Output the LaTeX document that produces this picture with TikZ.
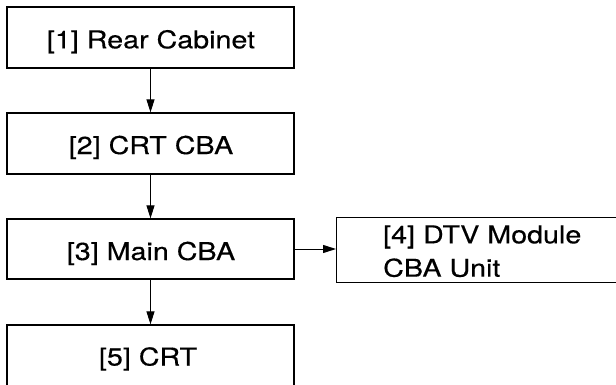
\documentclass[tikz,border=0pt]{standalone}
\usepackage{fontspec}
\setmainfont{TeX Gyre Heros}[FakeStretch=1.17,FakeBold=0.35]
\usetikzlibrary{arrows.meta}
\begin{document}
\begin{tikzpicture}[x=1pt,y=-1pt,
  boxstyle/.style={draw, line width=1.3pt, inner sep=0pt, minimum width=287pt},
  lbl/.style={inner sep=0pt, font=\fontsize{24.5}{34}\selectfont},
  conn/.style={line width=1pt, -{Triangle[length=13pt,width=8pt]}}]
\useasboundingbox (0,0) rectangle (616,385);
\node[boxstyle, minimum height=61pt] (b1) at (150.5,37.5) {};
\node[boxstyle, minimum height=61pt] (b2) at (150.5,143.5) {};
\node[boxstyle, minimum height=60pt] (b3) at (150.5,249) {};
\node[boxstyle, minimum height=61pt] (b5) at (150.5,355.5) {};
\node[boxstyle, anchor=north west, minimum width=300pt, minimum height=65pt] (b4) at (336,217) {};
\node[lbl, anchor=base] (t1) at (151,48.3) {[1] Rear Cabinet};
\node[lbl, anchor=base] (t2) at (151,154) {[2] CRT CBA};
\node[lbl, anchor=base] (t3) at (151,260) {[3] Main CBA};
\node[lbl, anchor=base] (t5) at (148,365.5) {[5] CRT};
\node[lbl, anchor=base west] (t4a) at (383,243.3) {[4] DTV Module};
\node[lbl, anchor=base west] (t4b) at (383,276.7) {CBA Unit};
\draw[conn] (b1.south) -- (b2.north);
\draw[conn] (b2.south) -- (b3.north);
\draw[conn] (b3.south) -- (b5.north);
\draw[conn] (b3.east) -- (b3.east -| b4.west);
\end{tikzpicture}
\end{document}
